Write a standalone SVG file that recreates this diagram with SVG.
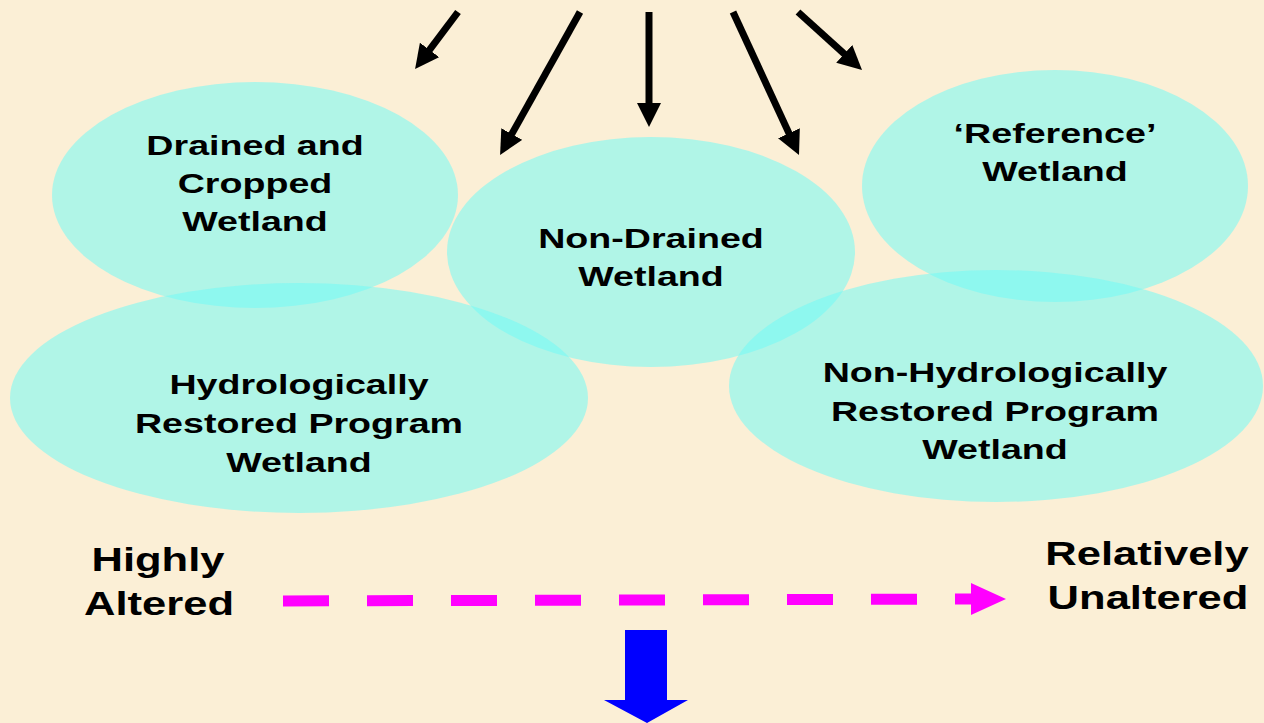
<svg xmlns="http://www.w3.org/2000/svg" width="1264" height="723" viewBox="0 0 1264 723">
  <style>
    .bubble { fill: #72FAF6; fill-opacity: 0.55; }
    .lbl { font-family: "Liberation Sans", Arial, sans-serif; font-weight: bold; font-size: 28.5px; fill: #000; text-anchor: middle; }
    .big { font-family: "Liberation Sans", Arial, sans-serif; font-weight: bold; font-size: 33px; fill: #000; text-anchor: middle; }
    .black-arrow { stroke: #000; stroke-width: 7; fill: none; marker-end: url(#head); }
  </style>
  <defs>
    <marker id="head" viewBox="0 0 24 24" refX="9" refY="12" markerWidth="24" markerHeight="24" markerUnits="userSpaceOnUse" orient="auto">
      <path d="M0,0 L24,12 L0,24 z" fill="#000"/>
    </marker>
  </defs>
  <rect x="0" y="0" width="1264" height="723" fill="#FBEFD6"/>

  <g id="node-drained">
    <ellipse class="bubble" cx="255" cy="195" rx="203" ry="113"/>
    <text class="lbl" transform="translate(255,155) scale(1.32,1)">Drained and</text>
    <text class="lbl" transform="translate(255,193) scale(1.32,1)">Cropped</text>
    <text class="lbl" transform="translate(255,231) scale(1.32,1)">Wetland</text>
  </g>
  <g id="node-nondrained">
    <ellipse class="bubble" cx="651" cy="252" rx="204" ry="115"/>
    <text class="lbl" transform="translate(651,248) scale(1.32,1)">Non-Drained</text>
    <text class="lbl" transform="translate(651,286) scale(1.32,1)">Wetland</text>
  </g>
  <g id="node-reference">
    <ellipse class="bubble" cx="1055" cy="186" rx="193" ry="116"/>
    <text class="lbl" transform="translate(1055,143) scale(1.32,1)">‘Reference’</text>
    <text class="lbl" transform="translate(1055,181) scale(1.32,1)">Wetland</text>
  </g>
  <g id="node-hydro">
    <ellipse class="bubble" cx="299" cy="398" rx="289" ry="115"/>
    <text class="lbl" transform="translate(299,394) scale(1.32,1)">Hydrologically</text>
    <text class="lbl" transform="translate(299,433) scale(1.32,1)">Restored Program</text>
    <text class="lbl" transform="translate(299,472) scale(1.32,1)">Wetland</text>
  </g>
  <g id="node-nonhydro">
    <ellipse class="bubble" cx="996" cy="386" rx="267" ry="116"/>
    <text class="lbl" transform="translate(995,382) scale(1.32,1)">Non-Hydrologically</text>
    <text class="lbl" transform="translate(995,421) scale(1.32,1)">Restored Program</text>
    <text class="lbl" transform="translate(995,459) scale(1.32,1)">Wetland</text>
  </g>

  <g id="label-highly">
    <text class="big" transform="translate(158,571) scale(1.32,1)">Highly</text>
    <text class="big" transform="translate(159,615) scale(1.32,1)">Altered</text>
  </g>
  <g id="label-relatively">
    <text class="big" transform="translate(1147,565) scale(1.32,1)">Relatively</text>
    <text class="big" transform="translate(1148,609) scale(1.32,1)">Unaltered</text>
  </g>

  <g id="connectors">
    <line class="black-arrow" x1="458" y1="12" x2="424.1" y2="57.1"/>
    <line class="black-arrow" x1="580" y1="12" x2="507.4" y2="141.9"/>
    <line class="black-arrow" x1="649" y1="12" x2="649" y2="112"/>
    <line class="black-arrow" x1="733" y1="12" x2="792.7" y2="141.4"/>
    <line class="black-arrow" x1="798" y1="12" x2="850.9" y2="59.9"/>
    <line x1="283" y1="601" x2="972" y2="599" stroke="#FF00FF" stroke-width="11" stroke-dasharray="46 38"/>
    <polygon points="971,583 1006,599 971,615" fill="#FF00FF"/>
    <polygon points="625,630 667,630 667,700 688,700 647,723 604,700 625,700" fill="#0000FF"/>
  </g>
</svg>
